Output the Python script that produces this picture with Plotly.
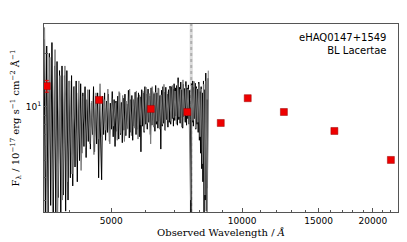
import plotly.graph_objects as go

# --- spectrum (flux in 1e-17 erg/s/cm2/A), sampled every 25 A from 3500 A ---
spec_start, spec_step = 3500, 25
spec_flux = [
    24, 2.3, 22, 2.1, 20, 2.8, 23, 2.2, 17, 2.5, 18, 3.1, 16,
    2.4, 17, 3.2, 15, 2.6, 16, 3.0, 14,
    4.0, 15, 3.6, 13, 4.6, 14, 3.8, 12, 5.0, 13.5,
    5.5, 12, 6.0, 13, 5.2, 11, 6.4, 12.5, 5.8, 10.5, 7.0, 13, 5.6, 11.5, 6.2, 12, 4.0, 11, 6.5,
    3.9, 11.5, 7.0, 12, 6.5, 10.8, 7.2, 11.8, 6.4, 10.5, 7.5, 12.2, 6.8, 11, 6.0, 10.8, 7.3, 11.5,
    6.6, 12, 7.0, 10.6, 6.3, 11.2, 7.4, 11.8, 6.9, 10.4, 7.6, 12.4, 6.7, 11, 7.2, 11.6, 6.5, 10.9,
    7.8, 12.1, 7.0, 11.3, 7.5, 12.0, 6.8, 11.4,
    5.6, 12.5, 7.8, 12, 7.2, 13, 8.0, 11.8, 7.5, 12.6, 8.2, 11.5, 7.0, 12.8, 7.9, 12.2, 8.4, 11.9,
    7.3, 13.2, 8.0, 12, 7.6, 12.7, 8.3, 11.6, 5.8, 12.4, 7.8, 13, 8.1, 12.1, 7.4, 12.9, 8.5, 11.8,
    7.7, 12.5, 8.2, 13.1,
    8.0, 13, 8.6, 12.6, 7.8, 13.5, 8.4, 12.8, 8.9, 13.2, 7.9, 14.6, 8.5, 12.9, 8.1, 13.8, 8.7, 12.5,
    7.6, 13.4, 8.8, 12.7, 8.2, 13.9, 7.9, 12.8, 8.6, 13.3, 8.0, 12.4, 8.5,
    2.2, 13.5, 8.2, 14, 7.8, 12.9, 8.6, 13.6, 7.5, 13, 8.0, 12.6, 7.2, 13.8, 6.5, 12.2,
    5.5, 13, 4.5, 12, 3.8, 14, 2.2, 12.5, 3.0, 15.5, 2.6, 11, 3.5, 14.5,
]
spec_wave = [spec_start + spec_step * i for i in range(len(spec_flux))]

# --- second (grey) spectrum, sampled every 50 A from 3510 A ---
grey_start, grey_step = 3510, 50
grey_flux = [
    28, 2.0, 19, 2.6, 21, 2.3, 15,
    3.0, 17, 3.8, 14,
    4.2, 13, 5.0, 14, 4.4,
    11.5, 5.9, 12.5, 6.2, 10.8, 5.4, 12, 6.6, 13.5,
    6.8, 11, 7.4, 12.6, 6.2, 11.2, 7.8, 10.5, 6.5, 12.2, 7.1, 11.6, 6.4, 10.8, 7.5, 12.6,
    6.9, 11.1, 7.6, 12.3, 6.6, 11.7,
    7.9, 12.3, 7.3, 12.9, 8.1, 11.9, 6.2, 13.0, 7.7, 12.1, 8.3, 12.8, 7.5, 11.7, 8.0, 13.4,
    7.4, 12.2, 8.4, 12.7,
    8.3, 13.2, 8.7, 12.3, 8.0, 13.7, 8.8, 12.6, 7.7, 14.2, 8.4, 13.0, 8.9, 12.6, 8.1,
    3.0, 13.3, 8.4, 13.9, 7.6, 12.7, 8.2, 13.5, 6.8,
    12.6, 4.8, 13.4, 3.2, 14, 2.4, 16,
]
grey_wave = [grey_start + grey_step * i for i in range(len(grey_flux))]

# --- photometry (SDSS ugriz + UKIDSS YJHK) ---
phot_bands = ["u", "g", "r", "i", "z", "Y", "J", "H", "K"]
phot_wave = [3551, 4686, 6166, 7480, 8932, 10305, 12483, 16313, 22010]
phot_flux = [13.1, 10.95, 9.75, 9.37, 8.13, 11.2, 9.37, 7.33, 5.04]
phot_err = [1.0, 0.15, 0.12, 0.12, 0.15, 0.2, 0.2, 0.15, 0.1]

telluric = [7575, 7700]

x_major = [5000, 10000, 15000, 20000]
x_minor = [4000, 6000, 7000, 8000, 9000, 11000, 12000, 13000, 14000,
           16000, 17000, 18000, 19000, 21000, 22000]
y_major = [10, 20]
y_minor = [3, 4, 5, 6, 7, 8, 9]

fig = go.Figure()
fig.add_vrect(x0=telluric[0], x1=telluric[1], fillcolor="#dcdcdc", line_width=0,
              layer="below")
fig.add_vline(x=(telluric[0] + telluric[1]) / 2, line=dict(color="#b0b0b0", width=2, dash="dot"),
              layer="below")
fig.add_trace(go.Scatter(x=spec_wave, y=spec_flux, mode="lines",
                         line=dict(color="black", width=1), showlegend=False))
fig.add_trace(go.Scatter(x=grey_wave, y=grey_flux, mode="lines",
                         line=dict(color="#7a7a7a", width=1), showlegend=False))
fig.add_trace(go.Scatter(x=phot_wave, y=phot_flux, mode="markers",
                         marker=dict(symbol="square", size=7, color="#ee0000",
                                     line=dict(color="#990000", width=0.5)),
                         error_y=dict(type="data", array=phot_err, color="#ee0000",
                                      thickness=1, width=2),
                         showlegend=False))

fig.add_annotation(x=1, y=1, xref="paper", yref="paper", xanchor="right", yanchor="top",
                   xshift=-9, yshift=-6, align="right", showarrow=False,
                   text="eHAQ0147+1549<br>BL Lacertae",
                   font=dict(family="DejaVu Sans", size=10, color="black"))

axis_common = dict(showgrid=False, zeroline=False, showline=True, mirror=True,
                   linecolor="#555555", linewidth=1, ticks="inside", ticklen=4,
                   tickcolor="#555555", automargin=False,
                   tickfont=dict(family="DejaVu Sans", size=9, color="black"))

fig.update_xaxes(type="log", range=[3.544, 4.359],
                 tickvals=x_major, ticktext=[str(v) for v in x_major],
                 minor=dict(tickvals=x_minor, ticks="inside", ticklen=2, tickcolor="#555555"),
                 title=dict(text="Observed Wavelength / <i>Å</i>", standoff=4,
                            font=dict(family="DejaVu Serif", size=10, color="black")),
                 **axis_common)
fig.update_yaxes(type="log", range=[0.41, 1.466],
                 tickvals=y_major, ticktext=["10<sup>1</sup>", ""],
                 minor=dict(tickvals=y_minor, ticks="inside", ticklen=2, tickcolor="#555555"),
                 title=dict(text="F<sub>λ</sub> / 10<sup>−17</sup> erg s<sup>−1</sup> cm<sup>−2</sup> Å<sup>−1</sup>",
                            standoff=4, font=dict(family="DejaVu Serif", size=10, color="black")),
                 **axis_common)

fig.update_layout(width=407, height=242, margin=dict(l=44, r=9, t=24, b=30),
                  plot_bgcolor="white", paper_bgcolor="white")

fig.write_html("out.html", config={"displayModeBar": False},
               post_script="document.body.style.margin='0';")
